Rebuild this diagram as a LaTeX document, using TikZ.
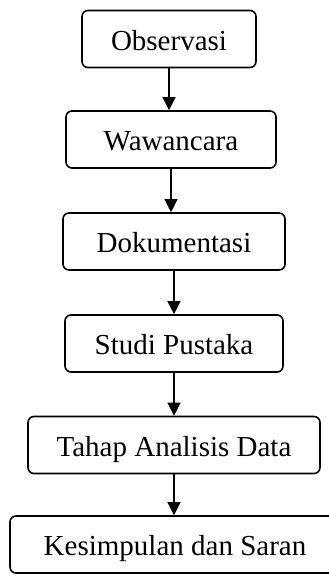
\documentclass[tikz,border=0pt]{standalone}
\usepackage{fontspec}
\setmainfont{Liberation Serif}
\usetikzlibrary{arrows.meta}
\begin{document}
\begin{tikzpicture}[x=1pt,y=1pt,
  box/.style={draw,line width=1.6pt,rounded corners=6pt,inner sep=0pt,
    font=\fontsize{29}{32}\selectfont,text height=23pt,text depth=0pt,minimum height=57pt},
  arr/.style={draw,line width=1.3pt,-{Triangle[length=13pt,width=13pt]}}]
\useasboundingbox (0,0) rectangle (329,576);
\node[box,minimum width=174pt] (o) at (169,537) {Observasi};
\node[box,minimum width=210pt] (w) at (171,436.5) {Wawancara};
\node[box,minimum width=222pt] (d) at (174,334.5) {Dokumentasi};
\node[box,minimum width=218pt] (s) at (174,232.5) {Studi Pustaka};
\node[box,minimum width=292pt] (t) at (174,131) {Tahap Analisis Data};
\node[box,minimum width=330pt] (k) at (175,31.5) {Kesimpulan dan Saran};
\draw[arr] (o.south) -- (o.south |- w.north);
\draw[arr] (w.south) -- (w.south |- d.north);
\draw[arr] (d.south) -- (d.south |- s.north);
\draw[arr] (s.south) -- (s.south |- t.north);
\draw[arr] (t.south) -- (t.south |- k.north);
\end{tikzpicture}
\end{document}
